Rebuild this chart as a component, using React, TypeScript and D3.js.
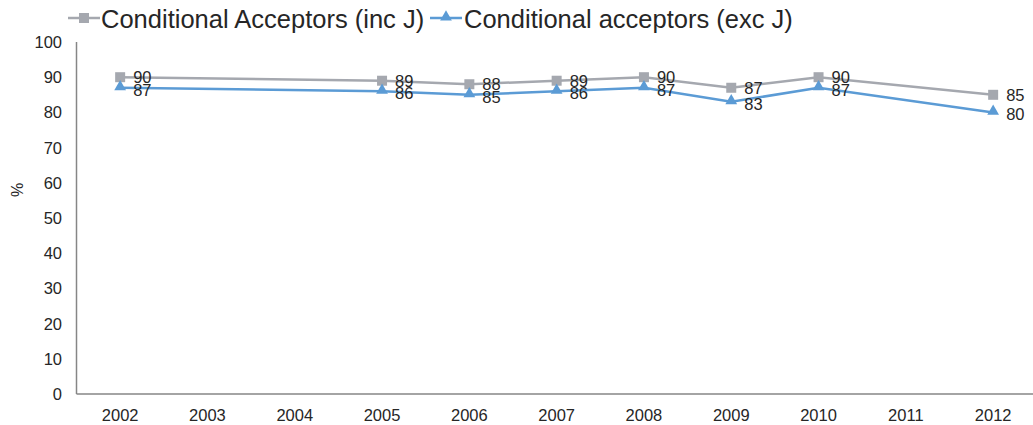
import React from "react";
import * as d3 from "d3";

const categories = ["2002", "2003", "2004", "2005", "2006", "2007", "2008", "2009", "2010", "2011", "2012"];
const incJ: (number | null)[] = [90, null, null, 89, 88, 89, 90, 87, 90, null, 85];
const excJ: (number | null)[] = [87, null, null, 86, 85, 86, 87, 83, 87, null, 80];
const yTicks = [0, 10, 20, 30, 40, 50, 60, 70, 80, 90, 100];
const seriesNames = ["Conditional Acceptors (inc J)", "Conditional acceptors (exc J)"];

const W = 1033, H = 425;
const left = 76.5, top = 42, bottom = 394;
const step = 87.3;
const GRAY = "#A5A8AF";
const BLUE = "#5B9BD5";
const FONT = "Liberation Sans, Arial, sans-serif";

export default function App() {
  const x = d3.scaleBand<string>().domain(categories).range([left, left + step * categories.length]);
  const y = d3.scaleLinear().domain([0, 100]).range([bottom, top]);
  const cx = (c: string) => (x(c) as number) + x.bandwidth() / 2;

  const mk = (vals: (number | null)[]) =>
    categories.map((c, i) => ({ c, v: vals[i] })).filter((d) => d.v !== null) as { c: string; v: number }[];
  const a = mk(incJ);
  const b = mk(excJ);
  const line = d3.line<{ c: string; v: number }>().x((d) => cx(d.c)).y((d) => y(d.v));
  const tri = d3.symbol().type(d3.symbolTriangle).size(60)();
  const sq = d3.symbol().type(d3.symbolSquare).size(100)();

  return (
    <svg width={W} height={H} style={{ position: "absolute", left: 0, top: 0, fontFamily: FONT }}>
      {/* legend */}
      <g>
        <line x1={68} x2={100} y1={18} y2={18} stroke={GRAY} strokeWidth={2.5} />
        <path d={sq as string} transform="translate(84,18)" fill={GRAY} />
        <text x={101} y={28} fontSize={25.5} fill="#262626">{seriesNames[0]}</text>
        <line x1={430} x2={462} y1={18} y2={18} stroke={BLUE} strokeWidth={2.5} />
        <path d={tri as string} transform="translate(446,17)" fill={BLUE} />
        <text x={464} y={28} fontSize={25.5} fill="#262626">{seriesNames[1]}</text>
      </g>
      {/* axes */}
      <line x1={left} x2={left} y1={top} y2={bottom} stroke="#868686" strokeWidth={1.5} />
      <line x1={left} x2={W} y1={bottom} y2={bottom} stroke="#868686" strokeWidth={1.5} />
      {yTicks.map((t) => (
        <text key={t} x={62} y={y(t) + 6} textAnchor="end" fontSize={16.5} fill="#262626">{t}</text>
      ))}
      {categories.map((c) => (
        <text key={c} x={cx(c)} y={421} textAnchor="middle" fontSize={16.5} fill="#262626">{c}</text>
      ))}
      <text transform="translate(23,190) rotate(-90)" textAnchor="middle" fontSize={16} fill="#262626">%</text>
      {/* series */}
      <path d={line(a) as string} fill="none" stroke={GRAY} strokeWidth={2.5} />
      <path d={line(b) as string} fill="none" stroke={BLUE} strokeWidth={2.5} />
      {a.map((d) => (
        <path key={"a" + d.c} d={sq as string} transform={`translate(${cx(d.c)},${y(d.v)})`} fill={GRAY} />
      ))}
      {b.map((d) => (
        <path key={"b" + d.c} d={tri as string} transform={`translate(${cx(d.c)},${y(d.v) - 1})`} fill={BLUE} />
      ))}
      {a.map((d) => (
        <text key={"ta" + d.c} x={cx(d.c) + 13} y={y(d.v) + 6} fontSize={16.5} fill="#262626">{d.v}</text>
      ))}
      {b.map((d) => (
        <text key={"tb" + d.c} x={cx(d.c) + 13} y={y(d.v) + 8} fontSize={16.5} fill="#262626">{d.v}</text>
      ))}
    </svg>
  );
}
